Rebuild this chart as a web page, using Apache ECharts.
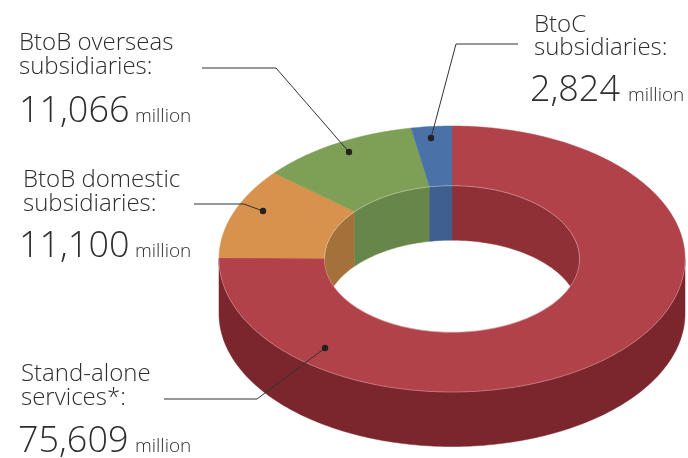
<!DOCTYPE html>
<html>
<head>
<meta charset="utf-8">
<style>html,body{margin:0;padding:0;background:#fff}#chart{width:688px;height:458px}</style>
<script src="https://cdn.jsdelivr.net/npm/echarts@6/dist/echarts.min.js"></script>
</head>
<body>
<div id="chart"></div>
<script>
// Revenue breakdown, in millions, clockwise from twelve o'clock.
const categories = [
  ['Stand-alone', 'services*:'],
  ['BtoB domestic', 'subsidiaries:'],
  ['BtoB overseas', 'subsidiaries:'],
  ['BtoC', 'subsidiaries:']
];
const values = [75609, 11100, 11066, 2824];
const unit = 'million';

// Slice colours: top face, outer wall, inner wall.
const topColors = ['#b24249', '#d7924e', '#7da056', '#4a72a9'];
const outerColors = ['#7b262c', '#7b5430', '#55703a', '#2f4c75'];
const innerColors = ['#8f3036', '#a4713a', '#678649', '#3e5f8f'];

// Ring geometry in pixels.
const ring = { cx: 452, cy: 259, rx: 233, ry: 133, hx: 127.5, hy: 73.3, depth: 54.5 };

// Callout placement: text lines, figure, unit, leader path.
const callouts = [
  { x: 21, y1: 381, y2: 405, nx: 18, ny: 452, ux: 135, path: [[164, 399], [257, 399], [325, 348]] },
  { x: 23, y1: 187, y2: 211, nx: 19, ny: 257, ux: 135, path: [[194, 204], [244, 204], [263, 211]] },
  { x: 19, y1: 50, y2: 74, nx: 19, ny: 122, ux: 135, path: [[202, 68], [276, 68], [349, 152]] },
  { x: 534, y1: 32, y2: 55, nx: 530, ny: 101, ux: 628, path: [[518, 44], [456, 44], [431, 138]] }
];

const total = values.reduce((a, b) => a + b, 0);
const spans = [];
values.reduce((acc, v) => {
  spans.push([acc / total * 360, (acc + v) / total * 360]);
  return acc + v;
}, 0);

// Points along an elliptical arc; angles run clockwise from the top.
function arc(rx, ry, dy, a0, a1) {
  const n = Math.max(2, Math.ceil(Math.abs(a1 - a0)));
  const pts = [];
  for (let i = 0; i <= n; i++) {
    const t = (a0 + (a1 - a0) * i / n) * Math.PI / 180;
    pts.push([ring.cx + rx * Math.sin(t), ring.cy + dy - ry * Math.cos(t)]);
  }
  return pts;
}

function overlap(span, lo, hi) {
  const a = Math.max(span[0], lo), b = Math.min(span[1], hi);
  return b > a ? [a, b] : null;
}

// A wall is the band between an arc on the top face and the same arc lowered by the depth.
function wall(rx, ry, range, color) {
  const pts = arc(rx, ry, 0, range[0], range[1])
    .concat(arc(rx, ry, ring.depth, range[1], range[0]));
  return { type: 'polygon', shape: { points: pts },
    style: { fill: color, stroke: color, lineWidth: 0.5 } };
}

function renderOuterWall(params) {
  const range = overlap(spans[params.dataIndex], 90, 270);
  return range ? wall(ring.rx, ring.ry, range, outerColors[params.dataIndex])
               : { type: 'group', children: [] };
}

function renderInnerWall(params) {
  const i = params.dataIndex;
  const children = [[0, 90], [270, 360]]
    .map(w => overlap(spans[i], w[0], w[1]))
    .filter(Boolean)
    .map(r => wall(ring.hx, ring.hy, r, innerColors[i]));
  return { type: 'group', children };
}

function renderTop(params) {
  const i = params.dataIndex, s = spans[i];
  const pts = arc(ring.rx, ring.ry, 0, s[0], s[1]).concat(arc(ring.hx, ring.hy, 0, s[1], s[0]));
  return { type: 'polygon', shape: { points: pts },
    style: { fill: topColors[i], stroke: topColors[i], lineWidth: 0.5 } };
}

// Fine highlight around the hole and along the near rim of the top face.
function renderRim(params) {
  const s = spans[params.dataIndex];
  const children = [{
    type: 'polyline', shape: { points: arc(ring.hx, ring.hy, 0, s[0], s[1]) },
    style: { fill: 'none', stroke: 'rgba(255,255,255,0.45)', lineWidth: 0.7 }
  }];
  const near = overlap(s, 90, 270);
  if (near) {
    children.push({
      type: 'polyline', shape: { points: arc(ring.rx, ring.ry, 0, near[0], near[1]) },
      style: { fill: 'none', stroke: 'rgba(255,255,255,0.35)', lineWidth: 0.7 }
    });
  }
  return { type: 'group', children };
}

const font = '"Open Sans", Lato, sans-serif';
const textColor = '#2f2d2d';
// Places a text run by its baseline.
function label(x, baseline, text, size) {
  return { type: 'text', z: 100, style: {
    x, y: baseline, text, fill: textColor, verticalAlign: 'bottom', lineHeight: size,
    font: '300 ' + size + 'px ' + font
  } };
}

const graphics = [];
callouts.forEach((c, i) => {
  graphics.push(label(c.x, c.y1 + 5, categories[i][0], 24));
  graphics.push(label(c.x, c.y2 + 5, categories[i][1], 24));
  graphics.push(label(c.nx, c.ny + 8, values[i].toLocaleString('en-US'), 36));
  graphics.push(label(c.ux, c.ny + 4, unit, 19));
  graphics.push({ type: 'polyline', z: 100, shape: { points: c.path },
    style: { fill: 'none', stroke: '#333', lineWidth: 1 } });
  const end = c.path[c.path.length - 1];
  graphics.push({ type: 'circle', z: 101, shape: { cx: end[0], cy: end[1], r: 3.2 },
    style: { fill: '#222' } });
});

function layer(name, renderItem, z) {
  return { type: 'custom', name, coordinateSystem: 'none', renderItem, z, silent: true,
    animation: false, data: values.map(v => [v]) };
}

const chart = echarts.init(document.getElementById('chart'), null, { renderer: 'canvas' });
chart.setOption({
  animation: false,
  backgroundColor: '#fff',
  series: [
    layer('inner wall', renderInnerWall, 2),
    layer('outer wall', renderOuterWall, 3),
    layer('top face', renderTop, 4),
    layer('rim', renderRim, 5)
  ],
  graphic: { elements: graphics }
});
</script>
</body>
</html>
